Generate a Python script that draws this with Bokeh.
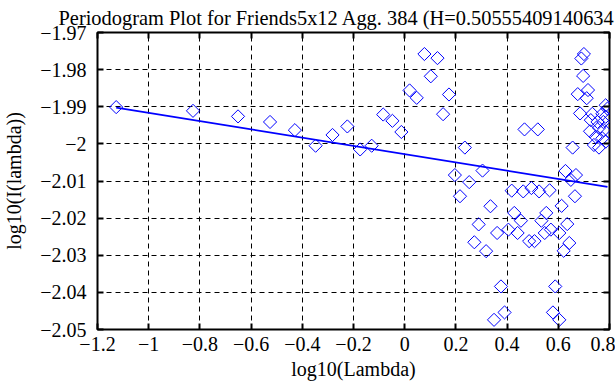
import numpy as np
from bokeh.plotting import figure
from bokeh.models import Range1d, LinearAxis, FixedTicker, Title, Grid, CustomJSTickFormatter
from bokeh.embed import file_html
from bokeh.resources import INLINE

# ---- data ----
log_lambda = [-1.127, -0.827, -0.651, -0.526, -0.429, -0.348, -0.282, -0.224, -0.174, -0.129,
              -0.084, -0.048, -0.013, 0.019, 0.047, 0.077, 0.102, 0.128, 0.150, 0.173,
              0.196, 0.216, 0.235, 0.252, 0.272, 0.289, 0.304, 0.318, 0.335, 0.349,
              0.361, 0.376, 0.390, 0.405, 0.418, 0.428, 0.441, 0.454, 0.463, 0.468,
              0.486, 0.495, 0.507, 0.520, 0.525, 0.534, 0.547, 0.553, 0.566, 0.571,
              0.579, 0.588, 0.604, 0.604, 0.613, 0.621, 0.628, 0.635, 0.643, 0.649,
              0.656, 0.665, 0.669, 0.676, 0.685, 0.690, 0.697, 0.700, 0.711, 0.716,
              0.724, 0.727, 0.733, 0.739, 0.746, 0.753, 0.759, 0.759, 0.772, 0.772,
              0.776, 0.778, 0.785, 0.785, 0.785, 0.792]
log_I = [-1.9901, -1.9911, -1.9926, -1.9941, -1.9963, -2.0005, -1.9976, -1.9953, -2.0015, -2.0005,
         -1.9921, -1.9938, -1.9968, -1.9856, -1.9876, -1.9758, -1.9818, -1.9769, -1.9920, -1.9867,
         -2.0084, -2.0141, -2.0010, -2.0103, -2.0265, -2.0217, -2.0072, -2.0289, -2.0168, -2.0474,
         -2.0240, -2.0384, -2.0454, -2.0231, -2.0126, -2.0186, -2.0240, -2.0207, -2.0128, -1.9961,
         -2.0262, -2.0119, -2.0262, -1.9961, -2.0128, -2.0207, -2.0240, -2.0186, -2.0125, -2.0231,
         -2.0454, -2.0384, -2.0240, -2.0474, -2.0167, -2.0288, -2.0073, -2.0216, -2.0267, -2.0097,
         -2.0010, -2.0141, -2.0084, -1.9866, -1.9918, -1.9770, -1.9817, -1.9758, -1.9877, -1.9855,
         -1.9966, -1.9936, -1.9919, -2.0003, -1.9981, -1.9941, -1.9957, -2.0010, -1.9919, -1.9985,
         -1.9941, -1.9963, -1.9896, -1.9927, -1.9994, -1.9905]

hurst = 0.50555409140634
fit_slope = 1 - 2 * hurst
fit_intercept = -2.00277

x_ticks = [-1.2, -1.0, -0.8, -0.6, -0.4, -0.2, 0.0, 0.2, 0.4, 0.6, 0.8]
x_tick_labels = ["−1.2", "−1", "−0.8", "−0.6", "−0.4", "−0.2", "0", "0.2", "0.4", "0.6", "0.8"]
y_ticks = [-2.05, -2.04, -2.03, -2.02, -2.01, -2.0, -1.99, -1.98, -1.97]
y_tick_labels = ["−2.05", "−2.04", "−2.03", "−2.02", "−2.01", "−2", "−1.99", "−1.98", "−1.97"]

title_text = "Periodogram Plot for Friends5x12 Agg. 384 (H=0.50555409140634"
x_label = "log10(Lambda)"
y_label = "log10(I(lambda))"

FONT = "Liberation Serif"
FS = "20px"

p = figure(width=615, height=385, output_backend="svg", toolbar_location=None,
           x_range=Range1d(-1.2, 0.8), y_range=Range1d(-2.05, -1.97),
           title=None, x_axis_type=None, y_axis_type=None,
           min_border_left=91, min_border_right=6, min_border_top=30, min_border_bottom=56)
p.background_fill_color = "white"
p.border_fill_color = "white"
p.outline_line_color = "black"
p.outline_line_width = 2

xt = FixedTicker(ticks=x_ticks, minor_ticks=[])
yt = FixedTicker(ticks=y_ticks, minor_ticks=[])

LOOKUP = """
let best = 0, d = Infinity;
for (let i = 0; i < tvals.length; i++) {
  const e = Math.abs(tvals[i] - tick);
  if (e < d) { d = e; best = i; }
}
return tlabels[best];
"""


def style_axis(ax, labels_on):
    ax.axis_line_color = None
    ax.major_tick_in = 6
    ax.major_tick_out = 0
    ax.major_tick_line_width = 2
    ax.major_tick_line_color = "black"
    ax.minor_tick_line_color = None
    ax.major_label_text_font = FONT
    ax.major_label_text_font_style = "normal"
    ax.major_label_text_color = "black"
    ax.axis_label_text_font = FONT
    ax.axis_label_text_font_style = "normal"
    ax.axis_label_text_font_size = FS
    ax.axis_label_text_color = "black"
    if labels_on:
        ax.major_label_text_font_size = FS
    else:
        ax.major_label_text_font_size = "0px"
        ax.major_label_text_alpha = 0
        ax.major_label_standoff = 0


xaxis = LinearAxis(ticker=xt, axis_label=x_label,
                   formatter=CustomJSTickFormatter(args=dict(tvals=x_ticks, tlabels=x_tick_labels),
                                                   code=LOOKUP))
style_axis(xaxis, True)
xaxis.major_label_standoff = 7
xaxis.axis_label_standoff = 4
p.add_layout(xaxis, "below")

yaxis = LinearAxis(ticker=yt, axis_label=y_label,
                   formatter=CustomJSTickFormatter(args=dict(tvals=y_ticks, tlabels=y_tick_labels),
                                                   code=LOOKUP))
style_axis(yaxis, True)
yaxis.major_label_standoff = 11
yaxis.axis_label_standoff = 12
p.add_layout(yaxis, "left")

xaxis2 = LinearAxis(ticker=xt)
style_axis(xaxis2, False)
p.add_layout(xaxis2, "above")
yaxis2 = LinearAxis(ticker=yt)
style_axis(yaxis2, False)
p.add_layout(yaxis2, "right")

p.add_layout(Title(text=title_text, align="left", offset=-39, standoff=8,
                   text_font=FONT, text_font_size="20.4px", text_font_style="normal",
                   text_color="black"), "above")

p.add_layout(Grid(dimension=0, ticker=xt, grid_line_color="black", grid_line_dash="5 4",
                  grid_line_width=1))
p.add_layout(Grid(dimension=1, ticker=yt, grid_line_color="black", grid_line_dash="5 4",
                  grid_line_width=1))

p.scatter(log_lambda, log_I, marker="square", angle=np.pi / 4, size=9.3,
          fill_color=None, line_color="#0000ff", line_width=1)

fx = np.array([min(log_lambda), max(log_lambda)])
p.line(fx, fit_intercept + fit_slope * fx, line_color="#0000ff", line_width=1.8)

open("out.html", "w").write(file_html(p, INLINE))
